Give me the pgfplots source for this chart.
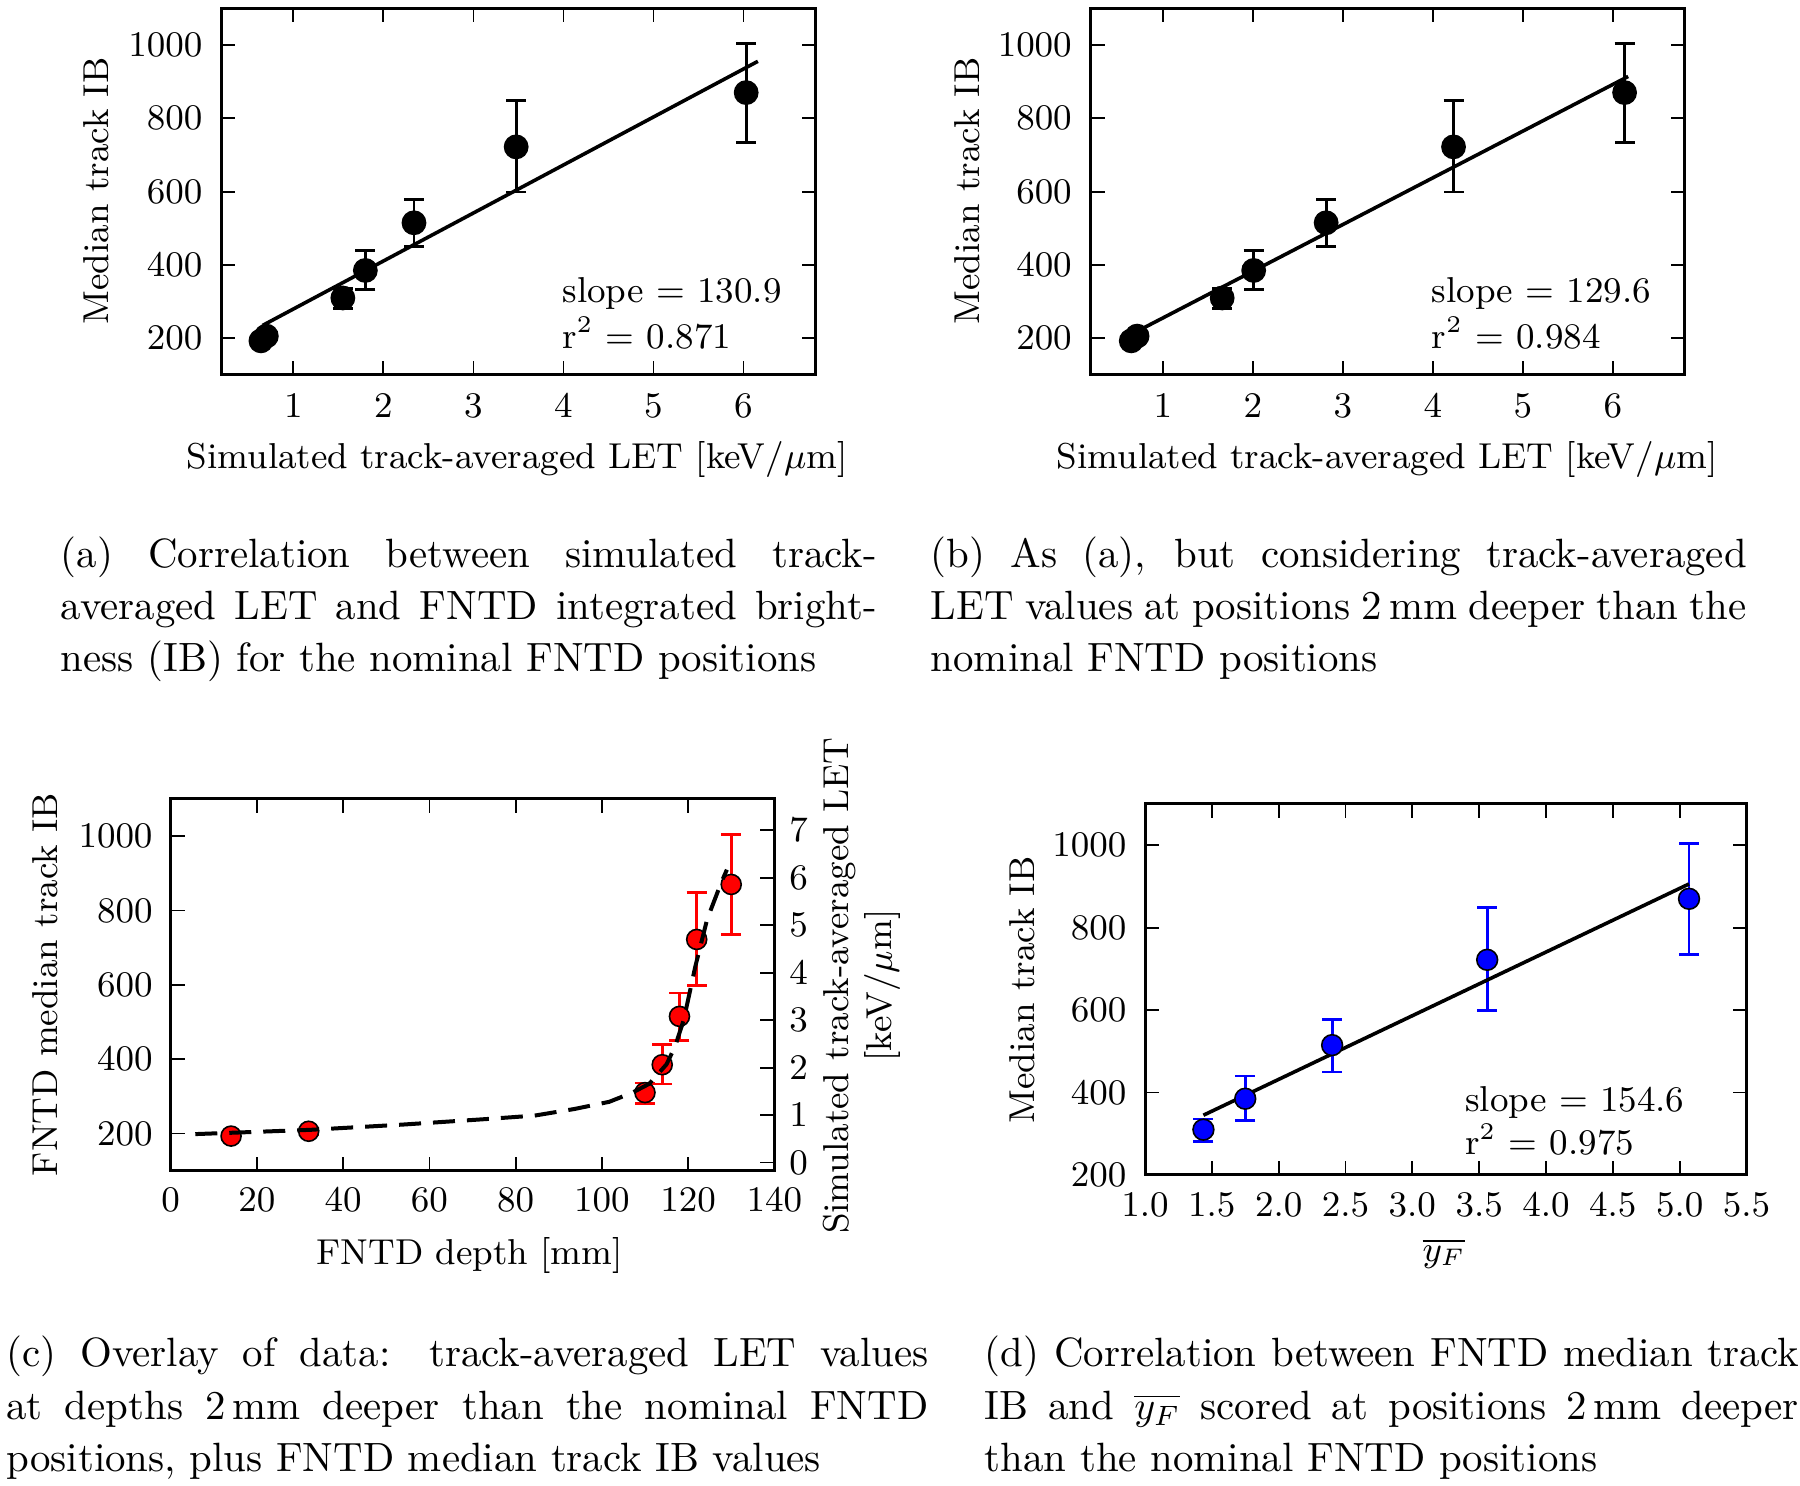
\documentclass[border=0pt]{standalone}
\usepackage{pgfplots}
\pgfplotsset{compat=1.18}
\usepackage{pgfplotstable}

\pgfplotstableread{
x y ep em
0.64 193 8 8
0.70 206 8 8
1.55 310 26 29
1.80 385 55 52
2.34 515 63 65
3.475 722 126 123
6.03 870 134 135
}\tabA
\pgfplotstableread{
x y ep em
0.65 193 8 8
0.715 206 8 8
1.66 310 26 29
2.01 385 55 52
2.815 515 63 65
4.23 722 126 123
6.13 870 134 135
}\tabB
\pgfplotstableread{
x y ep em
14 193 8 8
32 206 8 8
110 310 26 29
114 385 55 52
118 515 63 65
122 722 126 123
130 870 134 135
}\tabC
\pgfplotstableread{
x y ep em
1.437 310 26 29
1.75 385 55 52
2.40 515 63 65
3.56 722 126 123
5.07 870 134 135
}\tabD
\pgfplotstableread{
x y
5.7 0.60
32.4 0.69
53.7 0.80
73.7 0.92
84.4 0.99
93.7 1.13
101.7 1.28
107 1.47
111 1.66
115 2.07
117 2.45
119 3.01
121.7 4.14
124.4 5.12
127.7 5.90
129 6.17
}\tabLET

\pgfplotsset{
  myax/.style={
    scale only axis,
    font=\fontsize{9}{10.8}\selectfont,
    axis line style={line width=0.75pt},
    tick style={line width=0.45pt, black},
    major tick length=3.5pt,
    tick align=inside,
    /pgf/number format/1000 sep={},
    clip=false,
  },
  ebar/.style={draw=none, mark=none, forget plot,
    error bars/.cd, y dir=both, y explicit,
    error bar style={draw=#1, line width=0.7pt, solid},
    error mark options={rotate=90, draw=#1, line width=0.7pt, mark size=2.5pt}},
}

\begin{document}
\begin{tikzpicture}
\path[use as bounding box] (0pt,0pt) rectangle (450pt,371.5pt);

% ---------------- (a)
\begin{axis}[myax, at={(55.33pt,277.75pt)}, anchor=south west,
  width=148.55pt, height=91.68pt,
  xmin=0.2, xmax=6.8, ymin=100, ymax=1100,
  xtick={1,2,3,4,5,6}, ytick={200,400,600,800,1000},
  xtick pos=both, ytick pos=both,
  xticklabel style={yshift=-1.2pt}, yticklabel style={xshift=-1.2pt}]
\addplot[ebar=black] table[x=x,y=y,y error plus=ep,y error minus=em] {\tabA};
\addplot[only marks, mark=*, mark size=2.9pt, mark options={fill=black,draw=black}] table[x=x,y=y] {\tabA};
\addplot[black, line width=0.9pt, mark=none] coordinates {(0.66,235.3) (6.16,955.3)};
\node[anchor=base west, inner sep=0pt] at (axis cs:3.98,298.6) {slope = 130.9};
\node[anchor=base west, inner sep=0pt] at (axis cs:3.98,172.8) {r$^2$ = 0.871};
\end{axis}

% ---------------- (b)
\begin{axis}[myax, at={(272.68pt,277.75pt)}, anchor=south west,
  width=148.55pt, height=91.68pt,
  xmin=0.2, xmax=6.8, ymin=100, ymax=1100,
  xtick={1,2,3,4,5,6}, ytick={200,400,600,800,1000},
  xtick pos=both, ytick pos=both,
  xticklabel style={yshift=-1.2pt}, yticklabel style={xshift=-1.2pt}]
\addplot[ebar=black] table[x=x,y=y,y error plus=ep,y error minus=em] {\tabB};
\addplot[only marks, mark=*, mark size=2.9pt, mark options={fill=black,draw=black}] table[x=x,y=y] {\tabB};
\addplot[black, line width=0.9pt, mark=none] coordinates {(0.66,212) (6.17,914)};
\node[anchor=base west, inner sep=0pt] at (axis cs:3.98,298.6) {slope = 129.6};
\node[anchor=base west, inner sep=0pt] at (axis cs:3.98,172.8) {r$^2$ = 0.984};
\end{axis}

% ---------------- (c)
\begin{axis}[myax, at={(42.68pt,78.83pt)}, anchor=south west,
  width=150.9pt, height=92.93pt,
  xmin=0, xmax=140, ymin=100, ymax=1100,
  xtick={0,20,40,60,80,100,120,140}, ytick={200,400,600,800,1000},
  xtick pos=both, ytick pos=left,
  xticklabel style={yshift=-1pt}, yticklabel style={xshift=-1pt}]
\addplot[ebar=red] table[x=x,y=y,y error plus=ep,y error minus=em] {\tabC};
\addplot[only marks, mark=*, mark size=2.5pt, mark options={fill=red,draw=black,line width=0.4pt}] table[x=x,y=y] {\tabC};
\end{axis}
\begin{axis}[myax, at={(42.68pt,78.83pt)}, anchor=south west,
  width=150.9pt, height=92.93pt,
  xmin=0, xmax=140, ymin=-0.17, ymax=7.66,
  hide x axis, axis y line*=right,
  ytick={0,1,2,3,4,5,6,7},
  yticklabel style={xshift=0.25pt}]
\addplot[black, line width=1pt, dash pattern=on 5.5pt off 3pt, mark=none] table[x=x,y=y] {\tabLET};
\end{axis}

% ---------------- (d)
\begin{axis}[myax, at={(286.25pt,77.75pt)}, anchor=south west,
  width=150.38pt, height=92.75pt,
  xmin=1, xmax=5.5, ymin=200, ymax=1100,
  xtick={1,1.5,2,2.5,3,3.5,4,4.5,5,5.5}, ytick={200,400,600,800,1000},
  xtick pos=both, ytick pos=both,
  xticklabel={\pgfmathprintnumber[fixed,fixed zerofill,precision=1]{\tick}},
  xticklabel style={yshift=-1.1pt}, yticklabel style={xshift=-1.1pt}]
\addplot[ebar=blue] table[x=x,y=y,y error plus=ep,y error minus=em] {\tabD};
\addplot[only marks, mark=*, mark size=2.6pt, mark options={fill=blue,draw=black,line width=0.4pt}] table[x=x,y=y] {\tabD};
\addplot[black, line width=0.9pt, mark=none] coordinates {(1.437,345) (5.07,906)};
\node[anchor=base west, inner sep=0pt] at (axis cs:3.39,352.8) {slope = 154.6};
\node[anchor=base west, inner sep=0pt] at (axis cs:3.39,248.5) {r$^2$ = 0.975};
\end{axis}

% ---------------- axis labels
\begin{scope}[every node/.style={inner sep=0pt, font=\fontsize{9}{10.8}\selectfont}]
\node[rotate=90, anchor=base] at (27.25pt,323.75pt) {Median track IB};
\node[rotate=90, anchor=base] at (244.75pt,323.75pt) {Median track IB};
\node[rotate=90, anchor=base] at (14.3pt,125.35pt) {FNTD median track IB};
\node[rotate=90, anchor=base] at (258.65pt,124pt) {Median track IB};
\node[rotate=90, anchor=center, align=center] at (215.5pt,125.1pt) {Simulated track-averaged LET\\{}[keV/$\mu$m]};
\node[anchor=base] at (129.3pt,254.25pt) {Simulated track-averaged LET [keV/$\mu$m]};
\node[anchor=base] at (346.8pt,254.25pt) {Simulated track-averaged LET [keV/$\mu$m]};
\node[anchor=base] at (117.4pt,55.25pt) {FNTD depth [mm]};
\node[anchor=base] at (361pt,56pt) {$\overline{y_F}$};
\end{scope}

% ---------------- captions
\begin{scope}[every node/.style={inner sep=0pt, anchor=base west, font=\fontsize{10.22}{13}\selectfont}]
\node at (15pt,229.6pt) {\makebox[204pt][s]{(a) Correlation between simulated track-}};
\node at (15pt,216.6pt) {\makebox[204pt][s]{averaged LET and FNTD integrated bright-}};
\node at (15pt,203.6pt) {ness (IB) for the nominal FNTD positions};
\node at (232.5pt,229.6pt) {\makebox[204pt][s]{(b) As (a), but considering track-averaged}};
\node at (232.5pt,216.6pt) {\makebox[204pt][s]{LET values at positions 2\,mm deeper than the}};
\node at (232.5pt,203.6pt) {nominal FNTD positions};
\node at (1.4pt,29.9pt) {\makebox[230.5pt][s]{(c) Overlay of data: track-averaged LET values}};
\node at (1.4pt,16.7pt) {\makebox[230.5pt][s]{at depths 2\,mm deeper than the nominal FNTD}};
\node at (1.4pt,3.5pt) {positions, plus FNTD median track IB values};
\node at (246pt,29.9pt) {\makebox[203.5pt][s]{(d) Correlation between FNTD median track}};
\node at (246pt,16.7pt) {\makebox[203.5pt][s]{IB and $\overline{y_F}$ scored at positions 2\,mm deeper}};
\node at (246pt,3.5pt) {than the nominal FNTD positions};
\end{scope}
\end{tikzpicture}
\end{document}
